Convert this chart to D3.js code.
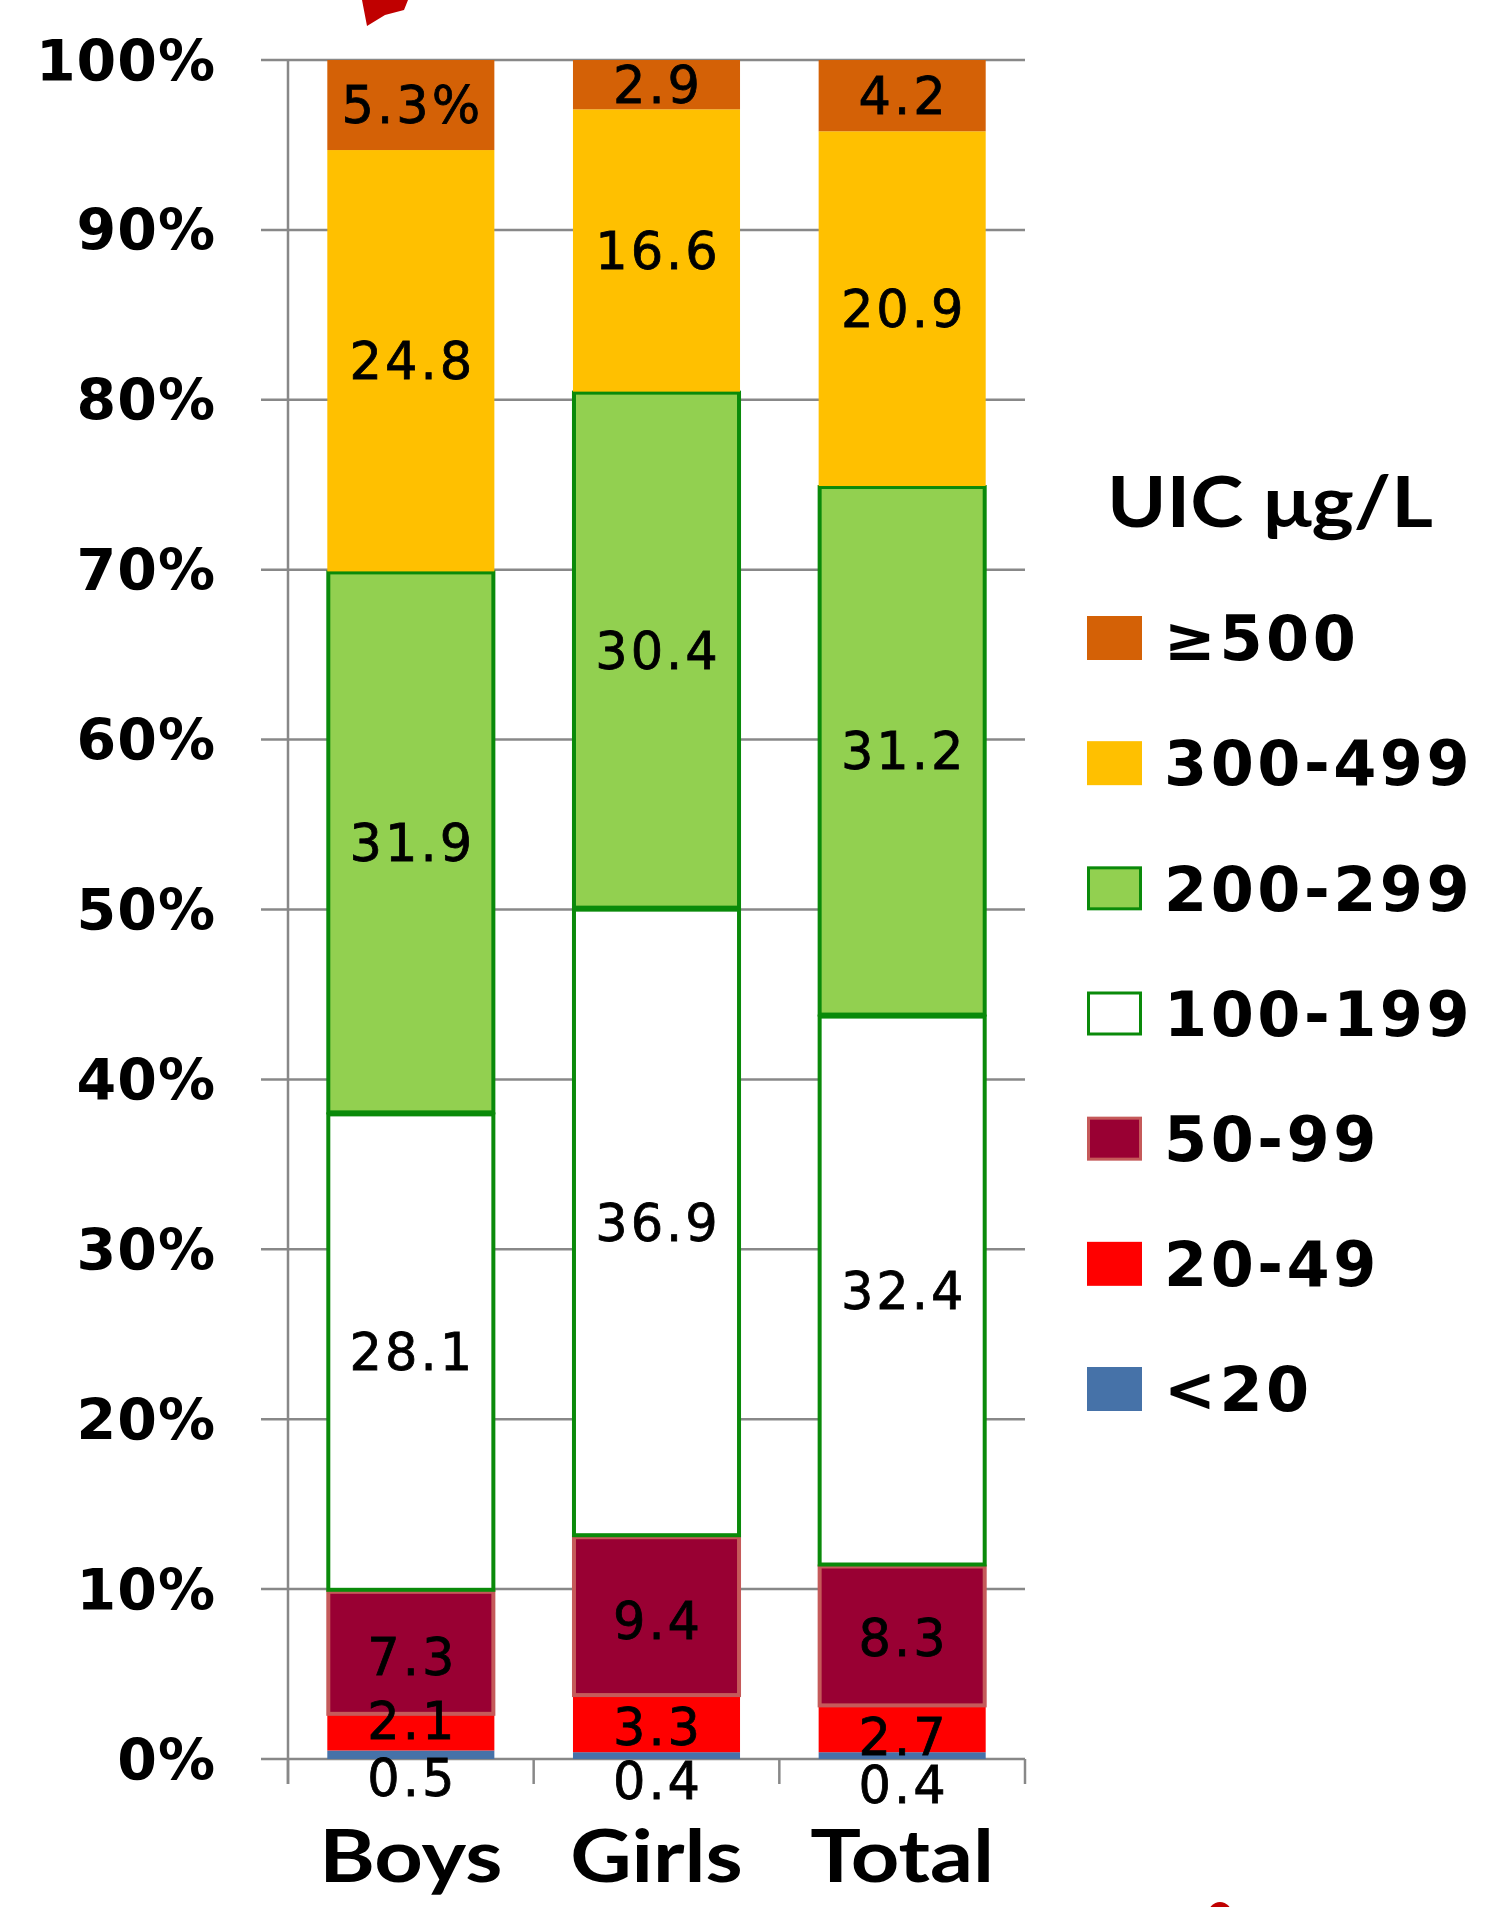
<!DOCTYPE html>
<html>
<head>
<meta charset="utf-8">
<script src="https://cdn.jsdelivr.net/npm/d3@7"></script>
<style>
  html, body { margin: 0; padding: 0; background: #fff; }
  svg { display: block; }
</style>
</head>
<body>
<svg id="chart" width="1485" height="1907"></svg>
<script>
// Urinary iodine concentration (UIC) distribution, 100% stacked by group
const categories = ["Boys", "Girls", "Total"];
const seriesKeys = ["<20", "20-49", "50-99", "100-199", "200-299", "300-499", "≥500"];
const lt20     = [0.5, 0.4, 0.4];
const r20_49   = [2.1, 3.3, 2.7];
const r50_99   = [7.3, 9.4, 8.3];
const r100_199 = [28.1, 36.9, 32.4];
const r200_299 = [31.9, 30.4, 31.2];
const r300_499 = [24.8, 16.6, 20.9];
const ge500    = [5.3, 2.9, 4.2];
const yTicks = [0, 0.1, 0.2, 0.3, 0.4, 0.5, 0.6, 0.7, 0.8, 0.9, 1.0];
const legendTitle = "UIC μg/L";

const seriesValues = [lt20, r20_49, r50_99, r100_199, r200_299, r300_499, ge500];

// rows for d3.stack
const rows = categories.map((c, i) => {
  const r = { cat: c };
  seriesKeys.forEach((k, j) => { r[k] = seriesValues[j][i]; });
  return r;
});

// styles per band
const fills = {
  "<20": "#4672A8", "20-49": "#FF0000", "50-99": "#990033", "100-199": "#FFFFFF",
  "200-299": "#92D050", "300-499": "#FFC000", "≥500": "#D46106"
};
const strokes = {
  "<20": null, "20-49": null, "50-99": "#C55A5A", "100-199": "#0A8A0A",
  "200-299": "#0A8A0A", "300-499": null, "≥500": null
};

// label nudges (px) for the crowded bands at the bottom
const labelNudge = {
  Boys:  { "<20": 23, "20-49": -12, "50-99": 4 },
  Girls: { "<20": 25, "20-49": 3, "50-99": 4 },
  Total: { "<20": 29, "20-49": 7, "50-99": 2 }
};

const svg = d3.select("#chart");
const plot = { left: 288, right: 1025, top: 60, bottom: 1759 };

const x = d3.scaleBand().domain(categories).range([plot.left, plot.right]).paddingInner(0.32).paddingOuter(0.16);
const y = d3.scaleLinear().domain([0, 1]).range([plot.bottom, plot.top]);

const stack = d3.stack().keys(seriesKeys).offset(d3.stackOffsetExpand);
const stacked = stack(rows);

const gridColor = "#888888";

// horizontal gridlines with left tick stubs
svg.append("g").selectAll("line.grid").data(yTicks).join("line")
  .attr("x1", 261).attr("x2", plot.right)
  .attr("y1", d => y(d)).attr("y2", d => y(d))
  .attr("stroke", gridColor).attr("stroke-width", 2.5);

// y axis line
svg.append("line")
  .attr("x1", plot.left).attr("x2", plot.left)
  .attr("y1", plot.top).attr("y2", plot.bottom + 25)
  .attr("stroke", gridColor).attr("stroke-width", 2.5);

// category separators below the baseline
const sepX = d3.range(categories.length + 1).map(i => plot.left + i * (plot.right - plot.left) / categories.length);
svg.append("g").selectAll("line").data(sepX).join("line")
  .attr("x1", d => d).attr("x2", d => d)
  .attr("y1", plot.bottom).attr("y2", plot.bottom + 25)
  .attr("stroke", gridColor).attr("stroke-width", 2.5);

// y tick labels
svg.append("g").selectAll("text").data(yTicks).join("text")
  .attr("x", 216).attr("y", d => y(d))
  .attr("dy", "0.36em")
  .attr("text-anchor", "end")
  .attr("font-family", "DejaVu Sans")
  .attr("font-weight", "bold")
  .attr("font-size", 57)
  .attr("letter-spacing", 1)
  .attr("fill", "#000")
  .text(d => d3.format(".0%")(d));

// stacked bars
const segs = stacked.map(s => s.map(d => ({ key: s.key, d }))).flat();
svg.append("g").selectAll("rect").data(segs).join("rect")
  .attr("x", o => x(o.d.data.cat) + (strokes[o.key] ? 1 : 0))
  .attr("width", o => x.bandwidth() - (strokes[o.key] ? 2 : 0))
  .attr("y", o => y(o.d[1]) + (strokes[o.key] ? 1 : 0))
  .attr("height", o => Math.max(0, y(o.d[0]) - y(o.d[1]) - (strokes[o.key] ? 2 : 0)))
  .attr("fill", o => fills[o.key])
  .attr("stroke", o => strokes[o.key] || "none")
  .attr("stroke-width", o => strokes[o.key] ? 4 : 0);

// value labels, drawn above every bar segment
const fmtLabel = (cat, key, v) => (cat === "Boys" && key === "≥500") ? v + "%" : String(v);
svg.append("g").selectAll("text").data(segs).join("text")
  .attr("x", o => x(o.d.data.cat) + x.bandwidth() / 2 + 1.5)
  .attr("y", o => (y(o.d[0]) + y(o.d[1])) / 2 + ((labelNudge[o.d.data.cat] || {})[o.key] || 0))
  .attr("dy", "0.36em")
  .attr("text-anchor", "middle")
  .attr("font-family", "DejaVu Sans")
  .attr("font-size", 51)
  .attr("letter-spacing", 3)
  .attr("fill", "#000")
  .attr("stroke", "#000")
  .attr("stroke-width", 0.8)
  .text(o => fmtLabel(o.d.data.cat, o.key, o.d.data[o.key]));

// category labels
svg.append("g").selectAll("text").data(categories).join("text")
  .attr("transform", d => `translate(${x(d) + x.bandwidth() / 2},1882) scale(1.16,1)`)
  .attr("text-anchor", "middle")
  .attr("font-family", "Lato")
  .attr("font-weight", "bold")
  .attr("font-size", 73)
  .attr("fill", "#000")
  .text(d => d);

// legend
const legend = svg.append("g");
legend.append("text")
  .attr("transform", "translate(1107,527) scale(1.13,1)")
  .attr("font-family", "Lato")
  .attr("font-weight", "bold")
  .attr("font-size", 71)
  .attr("fill", "#000")
  .text(legendTitle);

const legendKeys = seriesKeys.slice().reverse();
const legendRow = d3.scalePoint().domain(legendKeys).range([638, 1389]);
const items = legend.selectAll("g.item").data(legendKeys).join("g").attr("class", "item")
  .attr("transform", k => `translate(0,${legendRow(k)})`);
items.append("rect")
  .attr("x", o => 1087 + (strokes[o] ? 1.5 : 0))
  .attr("y", o => -22 + (strokes[o] ? 1.5 : 0))
  .attr("width", o => 55 - (strokes[o] ? 3 : 0))
  .attr("height", o => 44 - (strokes[o] ? 3 : 0))
  .attr("fill", k => fills[k])
  .attr("stroke", k => strokes[k] || "none")
  .attr("stroke-width", k => strokes[k] ? 3 : 0);
items.append("text")
  .attr("x", 1164).attr("y", 0)
  .attr("dy", "0.36em")
  .attr("font-family", "DejaVu Sans")
  .attr("font-weight", "bold")
  .attr("font-size", 62)
  .attr("letter-spacing", 3.5)
  .attr("fill", "#000")
  .text(k => k);

// red callout fragments at the edges of the slide
svg.append("path")
  .attr("d", "M362,0 L408,0 L404,10 L385,15 L367,26 Z")
  .attr("fill", "#C00000");
svg.append("ellipse")
  .attr("cx", 1220).attr("cy", 1915).attr("rx", 12).attr("ry", 13)
  .attr("fill", "#C00000");
</script>
</body>
</html>
